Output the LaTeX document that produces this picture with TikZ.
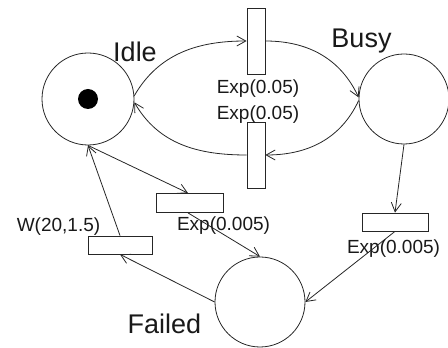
\documentclass[tikz,border=0pt]{standalone}
\usepackage{fontspec}
\setmainfont{Liberation Sans}
\usetikzlibrary{arrows.meta}

\tikzset{
  place/.style={circle, draw=black!85, line width=0.8pt, inner sep=0pt},
  trans/.style={rectangle, draw=black!85, line width=0.8pt, inner sep=0pt, fill=white},
  arc/.style={draw=black!85, line width=0.8pt, -{Straight Barb[length=9pt,width=10pt]}},
  statelabel/.style={anchor=base, inner sep=0pt, text=black!90, font=\fontsize{27}{32}\selectfont},
  ratelabel/.style={anchor=base, inner sep=0pt, text=black!90, font=\fontsize{19}{23}\selectfont},
}

\begin{document}
\begin{tikzpicture}[x=1pt, y=1pt]
  \useasboundingbox (0,0) rectangle (448,348);

  % places
  \node[place, minimum size=92pt] (idle) at (88,249) {};
  \node[place, minimum size=90pt] (busy) at (404,249) {};
  \node[place, minimum size=90pt] (failed) at (260,46) {};
  \fill[black] (idle.center) circle (10pt);

  % transitions
  \node[trans, minimum width=18pt, minimum height=66pt] (t1) at (256,307) {};
  \node[trans, minimum width=18pt, minimum height=66pt] (t2) at (256,193) {};
  \node[trans, minimum width=67pt, minimum height=19pt] (t3) at (190,145) {};
  \node[trans, minimum width=66pt, minimum height=18pt] (t4) at (395,126) {};
  \node[trans, minimum width=64pt, minimum height=18pt] (t5) at (120,103) {};

  % place names
  \node[statelabel] (lidle) at (135,286) {Idle};
  \node[statelabel] (lbusy) at (361.5,300) {Busy};
  \node[statelabel] (lfailed) at (164.5,14) {Failed};

  % firing distributions
  \node[ratelabel] (r1) at (258,254) {Exp(0.05)};
  \node[ratelabel] (r2) at (258,228) {Exp(0.05)};
  \node[ratelabel] (r3) at (223.5,117) {Exp(0.005)};
  \node[ratelabel] (r4) at (393.5,94) {Exp(0.005)};
  \node[ratelabel] (r5) at (58.5,116) {W(20,1.5)};

  % Idle <-> Busy cycle
  \draw[arc] (idle.4) to[out=60, in=180] (t1.west);
  \draw[arc] (t1.east) to[out=0, in=115] (busy.178);
  \draw[arc] (busy.182) to[out=-115, in=0] (t2.east);
  \draw[arc] (t2.west) to[out=180, in=-60] (idle.-4);

  % failures and repair
  \draw[arc] (idle.south) -- ([xshift=-2pt]t3.north);
  \draw[arc] ([xshift=-2pt]t3.south) -- (failed.north);
  \draw[arc] (busy.south) -- (t4.north);
  \draw[arc] (t4.south) -- (failed.east);
  \draw[arc] (failed.west) -- (t5.south);
  \draw[arc] (t5.north) -- (idle.south);
\end{tikzpicture}
\end{document}
